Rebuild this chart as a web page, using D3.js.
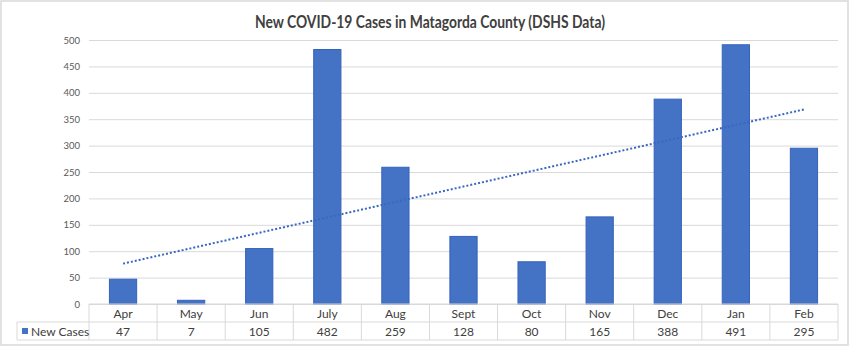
<!DOCTYPE html>
<html>
<head>
<meta charset="utf-8">
<script src="https://cdn.jsdelivr.net/npm/d3@7"></script>
<style>
  html, body { margin: 0; padding: 0; background: #fff; }
  svg { display: block; font-family: Lato, "Open Sans", sans-serif; }
</style>
</head>
<body>
<svg id="chart" width="850" height="347"></svg>
<script>
// Monthly new COVID-19 cases, Matagorda County (DSHS)
const months = ["Apr", "May", "Jun", "July", "Aug", "Sept", "Oct", "Nov", "Dec", "Jan", "Feb"];
const newCases = [47, 7, 105, 482, 259, 128, 80, 165, 388, 491, 295];
const yTicks = [0, 50, 100, 150, 200, 250, 300, 350, 400, 450, 500];
const seriesName = "New Cases";
const titleText = "New COVID-19 Cases in Matagorda County (DSHS Data)";

const barColor = "#4472C4";
const gridColor = "#d9d9d9";
const textColor = "#404040";

const svg = d3.select("#chart");
const W = 850, H = 347;

// outer frame
svg.append("rect")
  .attr("x", 1).attr("y", 1).attr("width", W - 3).attr("height", H - 3)
  .attr("fill", "#fff").attr("stroke", "#d9d9d9").attr("stroke-width", 1.5);

const plot = { left: 89, right: 838, top: 40, bottom: 304 };
const rowH = 18;
const legendLeft = 17;

const x = d3.scaleBand().domain(months).range([plot.left, plot.right]).paddingInner(0.6).paddingOuter(0.3);
const xCell = d3.scaleBand().domain(months).range([plot.left, plot.right]).padding(0);
const y = d3.scaleLinear().domain([0, 500]).range([plot.bottom, plot.top]);

// title
svg.append("text")
  .attr("x", 430).attr("y", 28)
  .attr("text-anchor", "middle")
  .attr("font-size", 16.5).attr("font-weight", 700)
  .attr("fill", textColor)
  .attr("textLength", 350).attr("lengthAdjust", "spacingAndGlyphs")
  .text(titleText);

// horizontal gridlines
const yAxis = d3.axisLeft(y).tickValues(yTicks).tickSize(-(plot.right - plot.left)).tickPadding(9);
const gy = svg.append("g").attr("transform", `translate(${plot.left},0)`).call(yAxis);
gy.select(".domain").remove();
gy.selectAll(".tick line").attr("stroke", gridColor).attr("stroke-width", 1);
gy.selectAll(".tick text").attr("fill", "#595959").attr("font-size", 9.5).attr("font-family", "Lato, sans-serif");

// bars
svg.append("g").selectAll("rect")
  .data(newCases)
  .join("rect")
  .attr("x", (d, i) => x(months[i]))
  .attr("width", x.bandwidth())
  .attr("y", d => y(d))
  .attr("height", d => y(0) - y(d))
  .attr("fill", barColor)
  .attr("stroke", "#3563bd").attr("stroke-width", 1);

// linear trendline (least squares over month index)
const n = newCases.length;
const mx = d3.mean(d3.range(n));
const my = d3.mean(newCases);
const slope = d3.sum(newCases, (v, i) => (i - mx) * (v - my)) / d3.sum(d3.range(n), i => (i - mx) ** 2);
const icpt = my - slope * mx;
const trend = [0, n - 1].map(i => [x(months[i]) + x.bandwidth() / 2, y(icpt + slope * i)]);
svg.append("path")
  .attr("d", d3.line()(trend))
  .attr("fill", "none")
  .attr("stroke", "#3a67c0").attr("stroke-width", 2)
  .attr("stroke-dasharray", "2,2");

// data table below the axis
const table = svg.append("g");
const row1 = plot.bottom, row2 = plot.bottom + rowH, row3 = plot.bottom + 2 * rowH;
const line = (x1, y1, x2, y2) => table.append("line")
  .attr("x1", x1).attr("y1", y1).attr("x2", x2).attr("y2", y2)
  .attr("stroke", gridColor).attr("stroke-width", 1);

line(plot.left, row1, plot.right, row1);
line(legendLeft, row2, plot.right, row2);
line(legendLeft, row3, plot.right, row3);
line(legendLeft, row2, legendLeft, row3);
months.forEach(m => line(xCell(m), row1, xCell(m), row3));
line(plot.right, row1, plot.right, row3);

table.selectAll("text.cat")
  .data(months).join("text")
  .attr("class", "cat")
  .attr("x", m => xCell(m) + xCell.bandwidth() / 2)
  .attr("y", row1 + 13.5)
  .attr("text-anchor", "middle")
  .attr("font-size", 12).attr("fill", textColor)
  .text(m => m);

table.selectAll("text.val")
  .data(newCases).join("text")
  .attr("class", "val")
  .attr("x", (d, i) => xCell(months[i]) + xCell.bandwidth() / 2)
  .attr("y", row2 + 13.5)
  .attr("text-anchor", "middle")
  .attr("font-size", 12).attr("fill", textColor)
  .text(d => d);

// legend key in the table's header cell
table.append("rect")
  .attr("x", 22).attr("y", row2 + 6).attr("width", 6).attr("height", 6)
  .attr("fill", barColor);
table.append("text")
  .attr("x", 31).attr("y", row2 + 13.5)
  .attr("font-size", 12).attr("fill", textColor)
  .text(seriesName);
</script>
</body>
</html>
